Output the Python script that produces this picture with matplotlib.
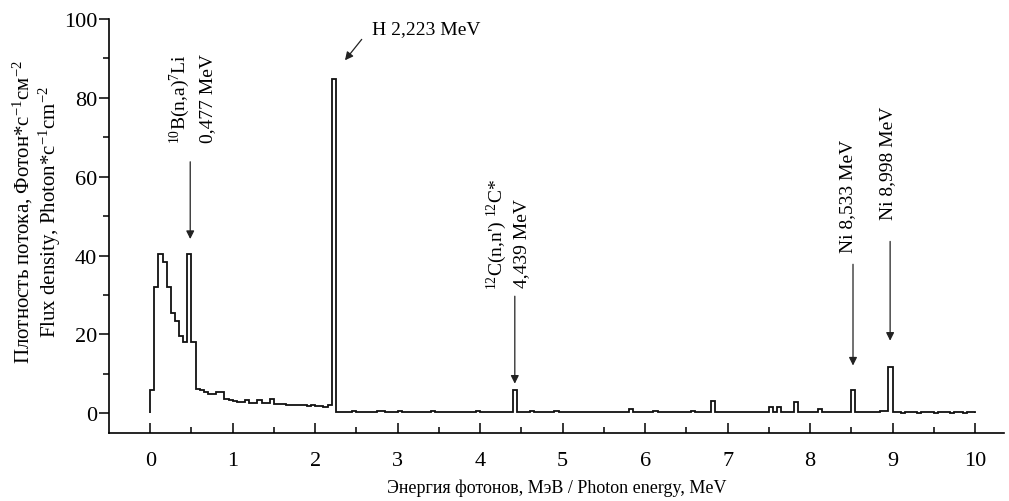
import numpy as np
import matplotlib
matplotlib.use("Agg")
from matplotlib import pyplot as plt

plt.rcParams['font.family'] = ['Liberation Serif', 'DejaVu Serif']
plt.rcParams['mathtext.fontset'] = 'custom'
plt.rcParams['mathtext.rm'] = 'Liberation Serif'
plt.rcParams['mathtext.default'] = 'regular'

# histogram bins of 0.05 MeV from 0 to 10 MeV
bin_width = 0.05
flux_0_1 = [6, 32, 40.5, 38.5, 32, 25.5, 23.5, 19.5, 18, 40.5,
            18, 6.2, 5.8, 5.5, 5.0, 5.0, 5.3, 5.3, 3.6, 3.3]
flux_1_2 = [3.1, 2.9, 2.8, 3.3, 2.7, 2.6, 3.4, 2.6, 2.5, 3.5,
            2.4, 2.3, 2.3, 2.2, 2.1, 2.2, 2.0, 2.1, 1.9, 2.0]
flux_2_3 = [1.8, 1.9, 1.7, 2.0, 84.8, 0.4, 0.4, 0.35, 0.4, 0.45,
            0.4, 0.4, 0.35, 0.4, 0.4, 0.45, 0.6, 0.4, 0.35, 0.4]
flux_3_4 = [0.5, 0.4, 0.35, 0.4, 0.35, 0.4, 0.4, 0.35, 0.5, 0.4,
            0.35, 0.4, 0.4, 0.35, 0.4, 0.35, 0.35, 0.4, 0.4, 0.5]
flux_4_5 = [0.35, 0.4, 0.35, 0.4, 0.4, 0.35, 0.4, 0.4, 5.8, 0.35,
            0.4, 0.35, 0.45, 0.4, 0.4, 0.35, 0.4, 0.35, 0.7, 0.4]
flux_5_6 = [0.35, 0.4, 0.35, 0.3, 0.35, 0.4, 0.35, 0.3, 0.35, 0.4,
            0.35, 0.3, 0.35, 0.3, 0.4, 0.35, 1.1, 0.3, 0.3, 0.35]
flux_6_7 = [0.3, 0.25, 0.7, 0.25, 0.3, 0.25, 0.25, 0.3, 0.25, 0.25,
            0.3, 0.7, 0.3, 0.25, 0.3, 0.25, 3.0, 0.25, 0.25, 0.3]
flux_7_8 = [0.25, 0.25, 0.3, 0.25, 0.25, 0.3, 0.25, 0.25, 0.3, 0.25,
            1.5, 0.4, 1.5, 0.3, 0.25, 0.3, 2.8, 0.3, 0.25, 0.3]
flux_8_9 = [0.25, 0.25, 1.0, 0.25, 0.2, 0.2, 0.25, 0.2, 0.2, 0.2,
            5.8, 0.2, 0.2, 0.2, 0.2, 0.2, 0.2, 0.5, 0.5, 11.7]
flux_9_10 = [0.2, 0.2, 0.15, 0.2, 0.2, 0.2, 0.15, 0.2, 0.2, 0.2,
             0.15, 0.2, 0.2, 0.2, 0.15, 0.2, 0.2, 0.15, 0.2, 0.2]

flux = np.array(flux_0_1 + flux_1_2 + flux_2_3 + flux_3_4 + flux_4_5
                + flux_5_6 + flux_6_7 + flux_7_8 + flux_8_9 + flux_9_10)
edges = np.arange(len(flux) + 1) * bin_width

fig = plt.figure(figsize=(10.09, 5.02), dpi=100)
ax = fig.add_axes([0.108, 0.1355, 0.887, 0.8245])

ax.stairs(flux, edges, baseline=0, color='#111111', lw=1.3)

ax.set_xlim(-0.5, 10.35)
ax.set_ylim(-5, 100)
ax.set_xticks(range(0, 11))
ax.set_xticks(np.arange(0.5, 10.4, 1.0), minor=True)
ax.set_yticks(range(0, 101, 20))
ax.set_yticks(range(10, 100, 20), minor=True)
for s in ['top', 'right']:
    ax.spines[s].set_visible(False)
for s in ['left', 'bottom']:
    ax.spines[s].set_linewidth(1.2)
ax.tick_params(axis='x', which='major', direction='in', length=7, width=1.1,
               pad=13, labelsize=16)
ax.tick_params(axis='x', which='minor', direction='in', length=4, width=1.1)
ax.tick_params(axis='y', which='major', direction='out', length=7, width=1.1,
               pad=1.5, labelsize=16)
ax.tick_params(axis='y', which='minor', direction='out', length=4, width=1.1)

ax.set_xlabel('Энергия фотонов, МэВ / Photon energy, MeV', fontsize=13, labelpad=6)
fig.text(37 / 1009, 1 - 212 / 502,
         'Плотность потока, Фотон*с$^{-1}$см$^{-2}$\n'
         'Flux density, Photon*c$^{-1}$cm$^{-2}$',
         rotation=90, ha='center', va='center', fontsize=15,
         multialignment='center', linespacing=1.05)

arrow = dict(arrowstyle='-|>', color='#222222', lw=0.9, mutation_scale=12)
afs = 14

# H 2,223
ax.annotate('', xy=(2.34, 89), xytext=(2.585, 95.4), arrowprops=arrow)
ax.text(2.694, 97.5, 'H 2,223 MeV', ha='left', va='center', fontsize=afs)

# 10B(n,a)7Li
ax.annotate('', xy=(0.485, 43.5), xytext=(0.485, 64.5), arrowprops=arrow)
ax.text(0.36, 91.5, '$^{10}$B(n,a)$^{7}$Li', rotation=90, ha='center',
        va='top', fontsize=afs)
ax.text(0.70, 91.5, '0,477 MeV', rotation=90, ha='center', va='top', fontsize=afs)

# 12C(n,n')12C*
ax.annotate('', xy=(4.42, 6.8), xytext=(4.42, 30.4), arrowprops=arrow)
ax.text(4.2, 31.6, "$^{12}$C(n,n') $^{12}$C*", rotation=90, ha='center',
        va='bottom', fontsize=afs)
ax.text(4.5, 32.0, '4,439 MeV', rotation=90, ha='center', va='bottom', fontsize=afs)

# Ni lines
ax.annotate('', xy=(8.52, 11.4), xytext=(8.52, 38.5), arrowprops=arrow)
ax.text(8.46, 41, 'Ni 8,533 MeV', rotation=90, ha='center', va='bottom', fontsize=afs)
ax.annotate('', xy=(8.97, 17.7), xytext=(8.97, 44.3), arrowprops=arrow)
ax.text(8.94, 49.4, 'Ni 8,998 MeV', rotation=90, ha='center', va='bottom', fontsize=afs)

plt.savefig('out.png', dpi=100)
